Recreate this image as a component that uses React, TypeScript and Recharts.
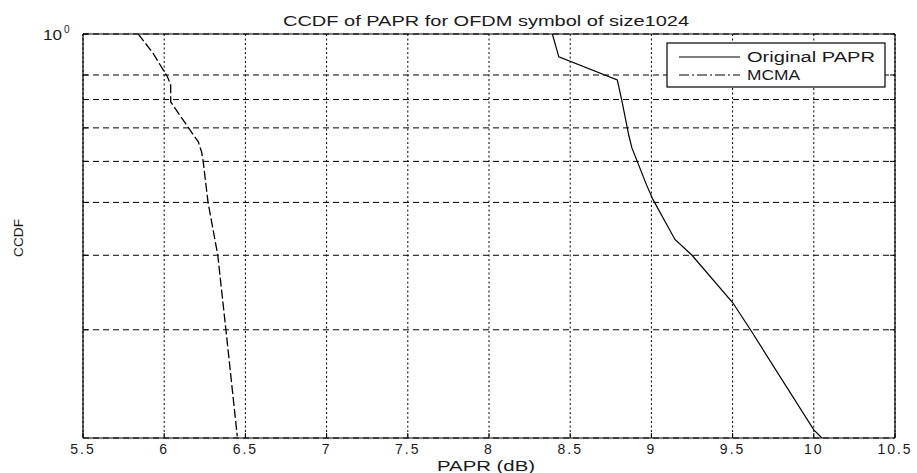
import React from 'react';
import { LineChart, Line, XAxis, YAxis, CartesianGrid } from 'recharts';

// values
const xTicks = [5.5, 6, 6.5, 7, 7.5, 8, 8.5, 9, 9.5, 10, 10.5];
const yTicks = [0.2, 0.3, 0.4, 0.5, 0.6, 0.7, 0.8, 0.9, 1];

const originalPapr = [8.39, 8.43, 8.79, 8.82, 8.86, 8.88, 8.97, 9.01, 9.145, 9.25, 9.5, 9.61, 10.0, 10.05];
const originalCcdf = [1.0, 0.883, 0.779, 0.69, 0.578, 0.538, 0.44, 0.406, 0.327, 0.3, 0.232, 0.2, 0.116, 0.111];

const mcmaPapr = [5.84, 5.93, 6.02, 6.04, 6.04, 6.15, 6.21, 6.23, 6.24, 6.27, 6.33, 6.38, 6.45];
const mcmaCcdf = [1.0, 0.902, 0.792, 0.758, 0.691, 0.6, 0.556, 0.527, 0.5, 0.4, 0.3, 0.2, 0.112];

const originalData = originalPapr.map((x, i) => ({ x, y: originalCcdf[i] }));
const mcmaData = mcmaPapr.map((x, i) => ({ x, y: mcmaCcdf[i] }));

const FONT = '"Liberation Sans", Arial, Helvetica, sans-serif';
const INK = '#1a1a1a';

const XTick = (props: any) => {
  const { x, y, payload } = props;
  return (
    <text x={x} y={y} dy="0.71em" textAnchor="middle" fontSize={14} fill={INK}
      fontFamily={FONT} letterSpacing={2}>
      {payload.value}
    </text>
  );
};

const YTick = (props: any) => {
  const { x, y, payload } = props;
  if (payload.value !== 1) return <g />;
  return (
    <g>
      <text x={x} y={y + 6} textAnchor="end" fontSize={14} fill={INK} fontFamily={FONT}
        textLength={19} lengthAdjust="spacingAndGlyphs">10</text>
      <text x={x + 2} y={y - 1} fontSize={10} fill={INK} fontFamily={FONT}>0</text>
    </g>
  );
};

const NoTick = () => <g />;

export default function App() {
  return (
    <div style={{ position: 'absolute', left: 0, top: 0, width: 917, height: 473, background: '#fff' }}>
      <LineChart width={917} height={473} margin={{ top: 0, right: 0, bottom: 0, left: 0 }}>
        <CartesianGrid horizontal={false} stroke="#000" strokeDasharray="2 2.5" />
        <CartesianGrid vertical={false} stroke="#000" strokeDasharray="6 4" />
        <XAxis dataKey="x" type="number" domain={[5.5, 10.5]} ticks={xTicks} height={35}
          tickSize={-5} tickMargin={11} tick={XTick} allowDataOverflow
          axisLine={{ stroke: '#000', strokeWidth: 1.2 }} tickLine={{ stroke: '#000' }} />
        <XAxis xAxisId="top" orientation="top" type="number" domain={[5.5, 10.5]} ticks={xTicks}
          height={34} tickSize={-5} tick={NoTick} allowDataOverflow
          axisLine={{ stroke: '#000', strokeWidth: 1.2 }} tickLine={{ stroke: '#000' }} />
        <YAxis type="number" scale="log" domain={[0.111, 1]} ticks={yTicks} width={83}
          tickSize={-5} tickMargin={26} tick={YTick} allowDataOverflow
          axisLine={{ stroke: '#000', strokeWidth: 1.2 }} tickLine={{ stroke: '#000' }} />
        <YAxis yAxisId="right" orientation="right" type="number" scale="log" domain={[0.111, 1]}
          ticks={yTicks} width={22} tickSize={-5} tick={NoTick} allowDataOverflow
          axisLine={{ stroke: '#000', strokeWidth: 1.2 }} tickLine={{ stroke: '#000' }} />
        <Line data={originalData} dataKey="y" type="linear" stroke="#000" strokeWidth={1.2}
          dot={false} isAnimationActive={false} />
        <Line data={mcmaData} dataKey="y" type="linear" stroke="#000" strokeWidth={1.3}
          strokeDasharray="9 3" dot={false} isAnimationActive={false} />
      </LineChart>
      <svg width={917} height={473} style={{ position: 'absolute', left: 0, top: 0, pointerEvents: 'none' }}>
        <text x={486} y={26} textAnchor="middle" fontSize={14} fill={INK} fontFamily={FONT}
          textLength={406} lengthAdjust="spacingAndGlyphs">
          CCDF of PAPR for OFDM symbol of size1024
        </text>
        <text x={486} y={471} textAnchor="middle" fontSize={14} fill={INK} fontFamily={FONT}
          textLength={98} lengthAdjust="spacingAndGlyphs">
          PAPR (dB)
        </text>
        <text x={23} y={238} textAnchor="middle" fontSize={13} fill={INK} fontFamily={FONT}
          textLength={38} lengthAdjust="spacingAndGlyphs" transform="rotate(-90 23 238)">
          CCDF
        </text>
        <rect x={667} y={43} width={218} height={44} fill="#fff" stroke="#000" strokeWidth={1.2} />
        <line x1={679} y1={57} x2={740} y2={57} stroke="#000" strokeWidth={1.2} />
        <line x1={679} y1={75} x2={740} y2={75} stroke="#000" strokeWidth={1.2} strokeDasharray="10 3 2 3" />
        <text x={747} y={62} fontSize={14} fill={INK} fontFamily={FONT}
          textLength={128} lengthAdjust="spacingAndGlyphs">Original PAPR</text>
        <text x={747} y={80} fontSize={14} fill={INK} fontFamily={FONT}
          textLength={53} lengthAdjust="spacingAndGlyphs">MCMA</text>
      </svg>
    </div>
  );
}
